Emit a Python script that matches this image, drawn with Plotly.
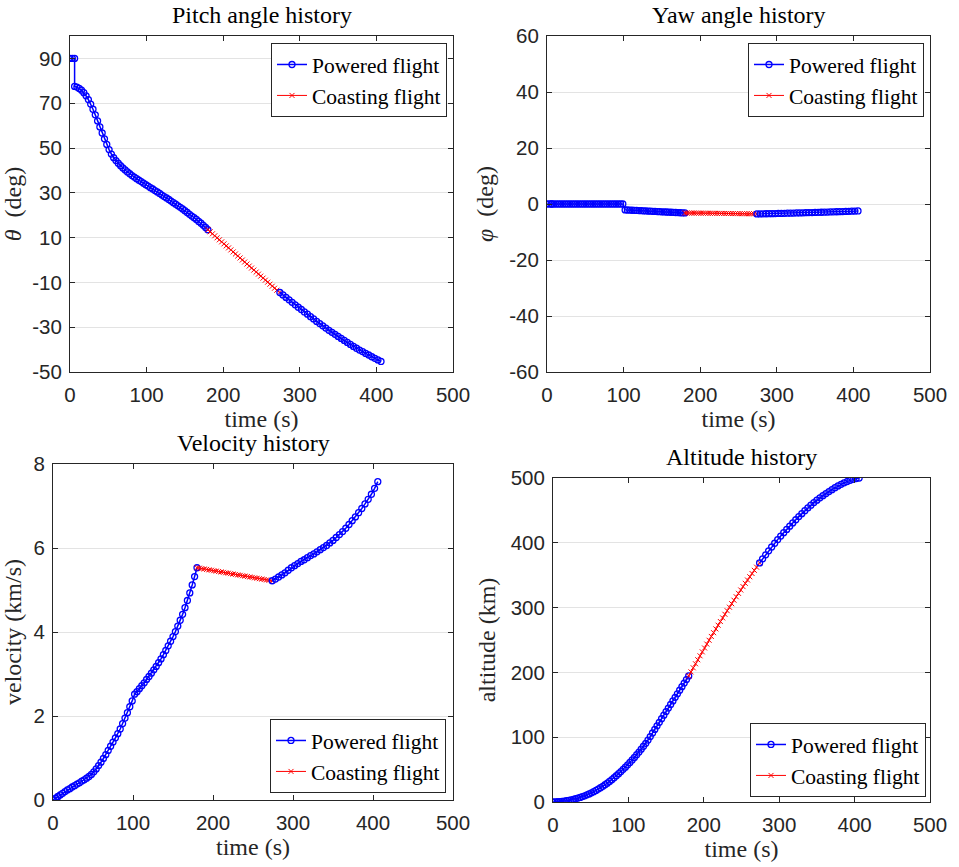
import plotly.graph_objects as go

# ---------------- data ----------------
T_POWER1 = [0, 3, 6, 6, 9, 12, 15, 18, 21, 24, 27, 30, 33, 36, 39, 42, 45, 48, 51, 54,
            57, 60, 63, 66, 69, 72, 75, 78, 81, 84, 87, 90, 93, 96, 99, 102, 105, 108,
            111, 114, 117, 120, 123, 126, 129, 132, 135, 138, 141, 144, 147, 150, 153,
            156, 159, 162, 165, 168, 171, 174, 177, 180]
T_COAST = [180, 183, 186, 189, 192, 195, 198, 201, 204, 207, 210, 213, 216, 219, 222,
           225, 228, 231, 234, 237, 240, 243, 246, 249, 252, 255, 258, 261, 264, 267,
           270, 274]
T_POWER2 = [274, 278, 282, 286, 290, 294, 298, 302, 306, 310, 314, 318, 322, 326, 330,
            334, 338, 342, 346, 350, 354, 358, 362, 366, 370, 374, 378, 382, 386, 390,
            394, 398, 402, 406]

PITCH_P1 = [90, 90, 90, 77.5, 77.2, 76.6, 75.8, 74.7, 73.3, 71.6, 69.6, 67.3, 64.8, 62.1,
            59.4, 56.7, 54.1, 51.6, 49.3, 47.3, 45.7, 44.4, 43.2, 42.1, 41.1, 40.2, 39.3,
            38.5, 37.7, 37.0, 36.3, 35.6, 35.0, 34.3, 33.6, 33.0, 32.3, 31.7, 31.0, 30.4,
            29.7, 29.0, 28.3, 27.7, 27.0, 26.3, 25.6, 24.9, 24.2, 23.5, 22.8, 22.0, 21.2,
            20.4, 19.6, 18.9, 18.1, 17.2, 16.4, 15.5, 14.5, 13.5]
PITCH_COAST = [13.5, 12.6, 11.7, 10.8, 9.9, 9.0, 8.1, 7.2, 6.3, 5.4, 4.5, 3.6, 2.7, 1.8,
               0.9, 0.0, -0.9, -1.8, -2.7, -3.6, -4.5, -5.4, -6.3, -7.2, -8.1, -9.0,
               -9.9, -10.8, -11.7, -12.6, -13.5, -14.5]
PITCH_P2 = [-14.5, -15.6, -16.7, -17.8, -18.9, -20.0, -21.1, -22.1, -23.2, -24.2, -25.3,
            -26.3, -27.4, -28.4, -29.4, -30.4, -31.4, -32.3, -33.2, -34.1, -35.0, -35.9,
            -36.8, -37.7, -38.6, -39.4, -40.2, -40.9, -41.7, -42.4, -43.2, -43.9, -44.6,
            -45.3]

YAW_P1 = [0.0] * 35 + [-2.10, -2.14, -2.18, -2.23, -2.27, -2.31, -2.35, -2.40, -2.44,
                       -2.48, -2.52, -2.57, -2.61, -2.65, -2.69, -2.74, -2.78, -2.82,
                       -2.86, -2.91, -2.95, -2.99, -3.03, -3.08, -3.12, -3.16, -3.20]
YAW_COAST = [-3.20, -3.21, -3.22, -3.23, -3.24, -3.25, -3.26, -3.27, -3.28, -3.29, -3.30,
             -3.31, -3.32, -3.33, -3.34, -3.35, -3.36, -3.37, -3.38, -3.39, -3.40, -3.41,
             -3.42, -3.43, -3.44, -3.45, -3.46, -3.47, -3.48, -3.49, -3.50, -3.52]
YAW_P2 = [-3.55, -3.53, -3.51, -3.49, -3.46, -3.44, -3.41, -3.38, -3.35, -3.32, -3.29,
          -3.26, -3.23, -3.20, -3.17, -3.14, -3.11, -3.08, -3.05, -3.02, -2.98, -2.95,
          -2.91, -2.88, -2.84, -2.81, -2.77, -2.73, -2.69, -2.65, -2.61, -2.57, -2.53,
          -2.49]

VEL_P1 = [0.00, 0.04, 0.08, 0.08, 0.12, 0.16, 0.20, 0.24, 0.27, 0.31, 0.34, 0.38, 0.41,
          0.45, 0.48, 0.52, 0.56, 0.61, 0.67, 0.74, 0.82, 0.90, 0.99, 1.08, 1.18, 1.28,
          1.38, 1.48, 1.58, 1.69, 1.82, 1.95, 2.08, 2.22, 2.36, 2.52, 2.58, 2.65, 2.72,
          2.79, 2.87, 2.94, 3.02, 3.10, 3.18, 3.27, 3.36, 3.46, 3.56, 3.67, 3.78, 3.89,
          4.01, 4.14, 4.28, 4.42, 4.58, 4.75, 4.93, 5.12, 5.32, 5.53]
VEL_COAST = [5.53, 5.52, 5.51, 5.50, 5.49, 5.48, 5.47, 5.46, 5.45, 5.44, 5.43, 5.42, 5.41,
             5.40, 5.39, 5.38, 5.37, 5.36, 5.35, 5.34, 5.33, 5.32, 5.31, 5.30, 5.29, 5.28,
             5.27, 5.26, 5.25, 5.24, 5.23, 5.22]
VEL_P2 = [5.22, 5.26, 5.31, 5.36, 5.41, 5.47, 5.53, 5.58, 5.63, 5.68, 5.72, 5.77, 5.82,
          5.86, 5.91, 5.96, 6.01, 6.06, 6.12, 6.18, 6.25, 6.32, 6.39, 6.47, 6.56, 6.65,
          6.74, 6.84, 6.94, 7.05, 7.16, 7.28, 7.42, 7.58]

ALT_P1 = [0.0, 0.1, 0.3, 0.3, 0.6, 0.9, 1.4, 2.0, 2.6, 3.3, 4.1, 5.0, 6.0, 7.1, 8.3, 9.6,
          11.0, 12.5, 14.2, 16.0, 17.9, 19.9, 22.0, 24.2, 26.6, 29.1, 31.7, 34.5, 37.4,
          40.5, 43.7, 47.0, 50.4, 53.8, 57.3, 61.0, 64.8, 68.8, 72.9, 77.1, 81.5, 86.0,
          90.6, 95.6, 101.0, 106.5, 112.0, 117.5, 123.0, 128.5, 134.0, 139.5, 145.0,
          150.5, 156.0, 161.5, 167.0, 172.5, 178.0, 183.5, 189.0, 194.5]
ALT_COAST = [194.5, 200.8, 207.1, 213.3, 219.5, 225.6, 231.7, 237.7, 243.7, 249.6, 255.5,
             261.3, 267.1, 272.8, 278.5, 284.1, 289.7, 295.2, 300.6, 306.0, 311.4, 316.7,
             322.0, 327.2, 332.4, 337.5, 342.6, 347.6, 352.6, 357.5, 362.4, 369.0]
ALT_P2 = [369.0, 375.3, 381.5, 387.6, 393.5, 399.3, 404.9, 410.4, 415.7, 420.6, 425.7,
          430.7, 435.6, 440.4, 445.0, 449.5, 453.8, 458.0, 462.0, 465.8, 469.4, 472.8,
          476.0, 479.0, 482.0, 485.0, 487.8, 490.3, 492.6, 494.6, 496.4, 497.9, 499.1,
          500.0]

X_TICKS = [0, 100, 200, 300, 400, 500]

# ---------------- figure ----------------
W, H = 959, 867
SERIF = "Liberation Serif"
SANS = "Liberation Sans"
AX_COL = "#262626"
GRID_COL = "#e3e3e3"
BLUE = "#0000ff"
RED = "#ff0000"


def px_x(a, b):
    return [a / W, b / W]


def px_y(top, bottom):
    return [1 - bottom / H, 1 - top / H]


panels = [
    dict(title="Pitch angle history", ylabel="<i>θ</i>&nbsp;&nbsp;(deg)",
         p1=PITCH_P1, c=PITCH_COAST, p2=PITCH_P2,
         yrange=[-50, 100], yticks=[-50, -30, -10, 10, 30, 50, 70, 90],
         xd=px_x(70, 453), yd=px_y(36, 372),
         leg=dict(x=447 / W, y=1 - 43 / H, xanchor="right", yanchor="top")),
    dict(title="Yaw angle history", ylabel="<i>φ</i>&nbsp;&nbsp;(deg)",
         p1=YAW_P1, c=YAW_COAST, p2=YAW_P2,
         yrange=[-60, 60], yticks=[-60, -40, -20, 0, 20, 40, 60],
         xd=px_x(547, 930), yd=px_y(36, 372),
         leg=dict(x=924 / W, y=1 - 43 / H, xanchor="right", yanchor="top")),
    dict(title="Velocity history", ylabel="velocity (km/s)",
         p1=VEL_P1, c=VEL_COAST, p2=VEL_P2,
         yrange=[0, 8], yticks=[0, 2, 4, 6, 8],
         xd=px_x(53, 453), yd=px_y(464, 800),
         leg=dict(x=446 / W, y=1 - 793 / H, xanchor="right", yanchor="bottom")),
    dict(title="Altitude history", ylabel="altitude (km)",
         p1=ALT_P1, c=ALT_COAST, p2=ALT_P2,
         yrange=[0, 500], yticks=[0, 100, 200, 300, 400, 500],
         xd=px_x(553, 930), yd=px_y(478, 802),
         leg=dict(x=926 / W, y=1 - 797 / H, xanchor="right", yanchor="bottom")),
]

fig = go.Figure()
layout = dict(template="none", width=W, height=H, autosize=False,
              margin=dict(l=0, r=0, t=0, b=0, pad=0),
              paper_bgcolor="white", plot_bgcolor="white", showlegend=True,
              annotations=[])

for i, p in enumerate(panels, start=1):
    xa = "x" if i == 1 else f"x{i}"
    ya = "y" if i == 1 else f"y{i}"
    lg = "legend" if i == 1 else f"legend{i}"
    fig.add_trace(go.Scatter(
        x=T_POWER1, y=p["p1"], mode="lines+markers", name="Powered flight",
        line=dict(color=BLUE, width=1.5),
        marker=dict(symbol="circle-open", size=6, color=BLUE, line=dict(width=1.3)),
        xaxis=xa, yaxis=ya, legend=lg, showlegend=True))
    fig.add_trace(go.Scatter(
        x=T_COAST, y=p["c"], mode="lines+markers", name="Coasting flight",
        line=dict(color=RED, width=1),
        marker=dict(symbol="x-thin-open", size=5, color=RED, line=dict(width=1, color=RED)),
        xaxis=xa, yaxis=ya, legend=lg, showlegend=True))
    fig.add_trace(go.Scatter(
        x=T_POWER2, y=p["p2"], mode="lines+markers", name="Powered flight",
        line=dict(color=BLUE, width=1.5),
        marker=dict(symbol="circle-open", size=6, color=BLUE, line=dict(width=1.3)),
        xaxis=xa, yaxis=ya, legend=lg, showlegend=False))

    axis_common = dict(showline=True, linecolor=AX_COL, linewidth=1, mirror="ticks",
                       ticks="inside", ticklen=5, tickcolor=AX_COL, tickwidth=1,
                       tickfont=dict(family=SANS, size=20.5, color=AX_COL),
                       zeroline=False, fixedrange=True, automargin=False)
    layout[("xaxis" if i == 1 else f"xaxis{i}")] = dict(
        axis_common, domain=p["xd"], anchor=ya, range=[0, 500],
        tickvals=X_TICKS, ticktext=[str(v) for v in X_TICKS], showgrid=False,
        ticklabelstandoff=4,
        title=dict(text="time (s)", font=dict(family=SERIF, size=24, color=AX_COL),
                   standoff=4))
    layout[("yaxis" if i == 1 else f"yaxis{i}")] = dict(
        axis_common, domain=p["yd"], anchor=xa, range=p["yrange"],
        tickvals=p["yticks"], ticktext=[str(v) for v in p["yticks"]],
        showgrid=True, gridcolor=GRID_COL, gridwidth=1, ticklabelstandoff=3,
        title=dict(text=p["ylabel"], font=dict(family=SERIF, size=24, color=AX_COL),
                   standoff=8))
    layout[lg] = dict(p["leg"], bgcolor="white", bordercolor=AX_COL, borderwidth=1,
                      font=dict(family=SERIF, size=21.5, color="#000000"),
                      itemwidth=30, tracegroupgap=0)
    layout["annotations"].append(dict(
        text=p["title"], xref="paper", yref="paper",
        x=(p["xd"][0] + p["xd"][1]) / 2, y=p["yd"][1], xanchor="center",
        yanchor="bottom", yshift=6, showarrow=False,
        font=dict(family=SERIF, size=24, color="#000000")))

fig.update_layout(**layout)
fig.write_html("out.html", config={"displayModeBar": False},
               post_script="document.body.style.margin='0';")
